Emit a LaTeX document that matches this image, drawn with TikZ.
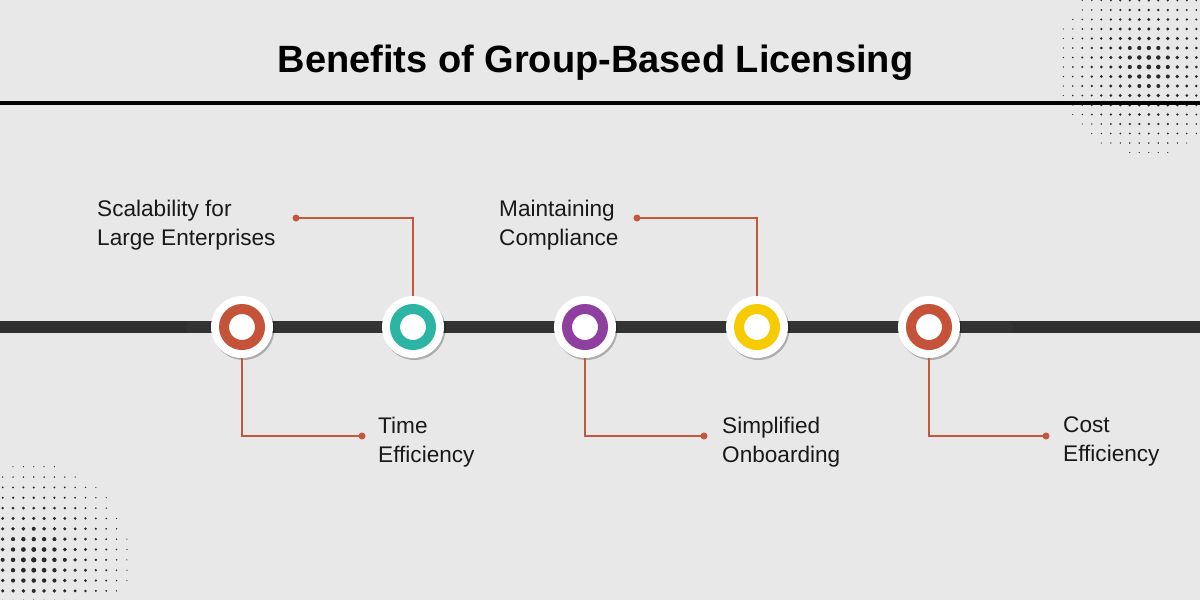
\documentclass[tikz,border=0pt]{standalone}
\usepackage{fontspec}
\setmainfont{Liberation Sans}
\usetikzlibrary{shadows, positioning}
\definecolor{bgcol}{HTML}{E8E8E8}
\definecolor{barcol}{HTML}{2F2F2F}
\definecolor{segcol}{HTML}{333333}
\definecolor{linkcol}{HTML}{C5573C}
\definecolor{dotcol}{HTML}{2A2A2A}
\definecolor{redring}{HTML}{C4533A}
\definecolor{tealring}{HTML}{2BB5A2}
\definecolor{purplering}{HTML}{8E3FA0}
\definecolor{yellowring}{HTML}{F7CB00}

\begin{document}
\begin{tikzpicture}[x=1pt, y=-1pt,
    bead/.style={circle, fill=white, minimum size=62pt, inner sep=0pt,
        drop shadow={shadow xshift=1.5pt, shadow yshift=-2pt, fill=black, opacity=0.25}},
    ring/.style={circle, draw=#1, line width=10pt, fill=white, minimum size=36pt, inner sep=0pt},
    link/.style={draw=linkcol, line width=2pt},
    lbl/.style={anchor=north west, align=left, inner sep=0pt, text=black!90,
        font=\fontsize{22.6}{28.5}\selectfont}]
    %sfondo
    \fill[bgcol] (0,0) rectangle (1200,600);
    \useasboundingbox (0,0) rectangle (1200,600);

    %puntini in alto a destra
    \foreach \i in {0,...,14}{
        \foreach \j in {0,...,16}{
            \pgfmathsetmacro{\dx}{1063.3+9.5*\i}
            \pgfmathsetmacro{\dy}{0.5+9.5*\j}
            \pgfmathsetmacro{\dd}{veclen(\dx-1148,\dy-64)}
            \pgfmathsetmacro{\rr}{\dd<92 ? 0.6+1.9*(1-\dd/92) : 0}
            \fill[dotcol] (\dx,\dy) circle[radius=\rr pt];
        }
    }
    %puntini in basso a sinistra
    \foreach \i in {0,...,12}{
        \foreach \j in {0,...,13}{
            \pgfmathsetmacro{\dx}{2.7+10.35*\i}
            \pgfmathsetmacro{\dy}{466.7+10.35*\j}
            \pgfmathsetmacro{\dd}{veclen(\dx-33.7,\dy-560)}
            \pgfmathsetmacro{\rr}{\dd<96 ? 0.6+2.1*(1-\dd/96) : 0}
            \fill[dotcol] (\dx,\dy) circle[radius=\rr pt];
        }
    }

    %titolo
    \node[anchor=base, inner sep=0pt, font=\fontsize{38}{40}\selectfont\bfseries] (title)
        at (595.5,72.5) {Benefits of Group-Based Licensing};
    \draw[line width=4pt] (0,103) -- (1200,103);

    %linea del tempo
    \draw[line width=12pt, barcol] (0,327) -- (1200,327);
    \draw[line width=12pt, line cap=round, segcol] (191,327) -- (1007,327);

    %punti finali dei collegamenti
    \coordinate (d1) at (362,436);
    \coordinate (d2) at (296,218);
    \coordinate (d3) at (704,436);
    \coordinate (d4) at (637,218);
    \coordinate (d5) at (1046,436);

    %cerchi
    \node[bead] (c1) at (242,327) {};
    \node[bead] (c2) at (413,327) {};
    \node[bead] (c3) at (585,327) {};
    \node[bead] (c4) at (757,327) {};
    \node[bead] (c5) at (929,327) {};
    \node[ring=redring] (r1) at (c1) {};
    \node[ring=tealring] (r2) at (c2) {};
    \node[ring=purplering] (r3) at (c3) {};
    \node[ring=yellowring] (r4) at (c4) {};
    \node[ring=redring] (r5) at (c5) {};

    %collegamenti
    \draw[link] (c1.south) |- (d1);
    \draw[link] (c2.north) |- (d2);
    \draw[link] (c3.south) |- (d3);
    \draw[link] (c4.north) |- (d4);
    \draw[link] (c5.south) |- (d5);
    \foreach \d in {d1,d2,d3,d4,d5}
        \fill[linkcol] (\d) circle[radius=3.5pt];

    %etichette
    \node[lbl] (l1) at (378,417) {Time\\Efficiency};
    \node[lbl] (l2) at (97,200) {Scalability for\\Large Enterprises};
    \node[lbl] (l3) at (722,417) {Simplified\\Onboarding};
    \node[lbl] (l4) at (499,200) {Maintaining\\Compliance};
    \node[lbl] (l5) at (1063,417) {Cost\\Efficiency};
\end{tikzpicture}
\end{document}
